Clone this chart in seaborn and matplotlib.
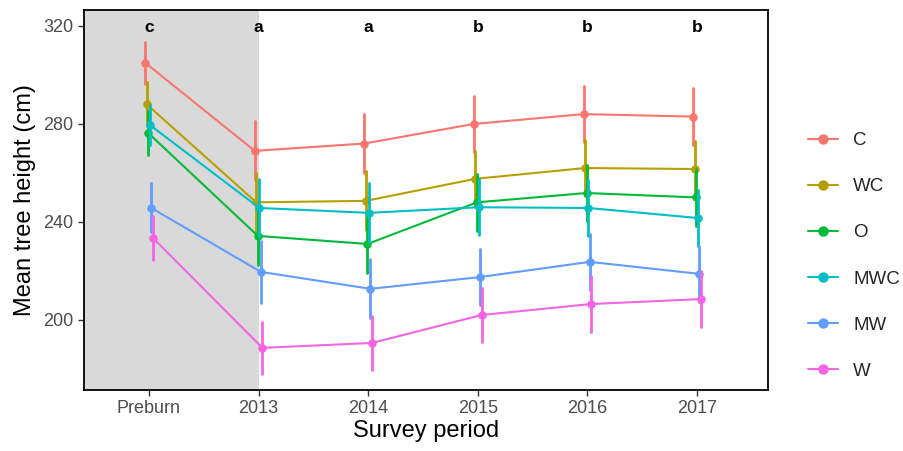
import numpy as np
import pandas as pd
import matplotlib
matplotlib.use("Agg")
import matplotlib.pyplot as plt
import seaborn as sns
from matplotlib.lines import Line2D

periods = ["Preburn", "2013", "2014", "2015", "2016", "2017"]
treatments = ["C", "WC", "O", "MWC", "MW", "W"]
colors = ["#F8766D", "#B79F00", "#00BA38", "#00BFC4", "#619CFF", "#F564E3"]
letters = ["c", "a", "a", "b", "b", "b"]

mean_C = [305, 269, 272, 280, 284, 283]
mean_WC = [288, 248, 248.6, 257.6, 262, 261.6]
mean_O = [276.3, 234.3, 231, 248, 251.8, 250]
mean_MWC = [279.6, 245.7, 243.7, 246, 245.7, 241.6]
mean_MW = [245.7, 219.6, 212.7, 217.5, 223.7, 218.8]
mean_W = [233.5, 188.6, 190.6, 202, 206.5, 208.5]

err_C = [8.5, 12, 12, 11.5, 11.5, 11.7]
err_WC = [9, 12, 12, 11.5, 11.5, 11.5]
err_O = [9, 12, 12, 11.5, 11.5, 11.5]
err_MWC = [8, 12, 12, 11.5, 11.5, 11.5]
err_MW = [10, 12.5, 12, 11.5, 11.5, 11.5]
err_W = [9, 10.5, 11, 11, 11.5, 11.5]

means = [mean_C, mean_WC, mean_O, mean_MWC, mean_MW, mean_W]
errs = [err_C, err_WC, err_O, err_MWC, err_MW, err_W]

rows = []
for t, m, e in zip(treatments, means, errs):
    for p, mv, ev in zip(periods, m, e):
        rows.append({"period": p, "treatment": t, "height": mv - ev})
        rows.append({"period": p, "treatment": t, "height": mv + ev})
df = pd.DataFrame(rows)

sns.set_style("white")
plt.rcParams["font.family"] = ["Liberation Sans", "DejaVu Sans"]
fig = plt.figure(figsize=(9.04, 4.51), dpi=100)
ax = fig.add_axes([84/904, 1 - 390/451, (768 - 84)/904, (390 - 10)/451])

ax.axvspan(-0.7, 1, color="#D9D9D9", zorder=0, lw=0)

sns.pointplot(data=df, x="period", y="height", hue="treatment",
              order=periods, hue_order=treatments, palette=colors,
              estimator="mean", errorbar=("pi", 100), dodge=0.07,
              markers="o", markersize=5, linewidth=1.5, err_kws={"linewidth": 2},
              ax=ax, legend=False)

for i, l in enumerate(letters):
    ax.text(i, 319.3, l, ha="center", va="center", fontsize=12.5, fontweight="bold", color="black")

ax.set_xlim(-0.593, 5.648)
ax.set_ylim(171.4, 326.5)
ax.set_yticks([200, 240, 280, 320])
ax.set_xlabel("Survey period", fontsize=17, color="black", labelpad=2)
ax.set_ylabel("Mean tree height (cm)", fontsize=17, color="black", labelpad=5)
ax.tick_params(axis="both", which="both", length=4, width=1, direction="out",
               colors="#333333", labelcolor="#4D4D4D", labelsize=13, bottom=True, left=True)
for s in ax.spines.values():
    s.set_visible(True)
    s.set_color("black")
    s.set_linewidth(1.3)

handles = [Line2D([0], [0], color=c, marker="o", markersize=6.5, lw=1.5) for c in colors]
fig.legend(handles, treatments, loc="center left", bbox_to_anchor=(795/904, 1 - 256/451),
           frameon=False, fontsize=13.5, labelspacing=1.55, handlelength=1.6,
           handletextpad=0.8, borderpad=0.2)

fig.savefig("out.png", dpi=100)
